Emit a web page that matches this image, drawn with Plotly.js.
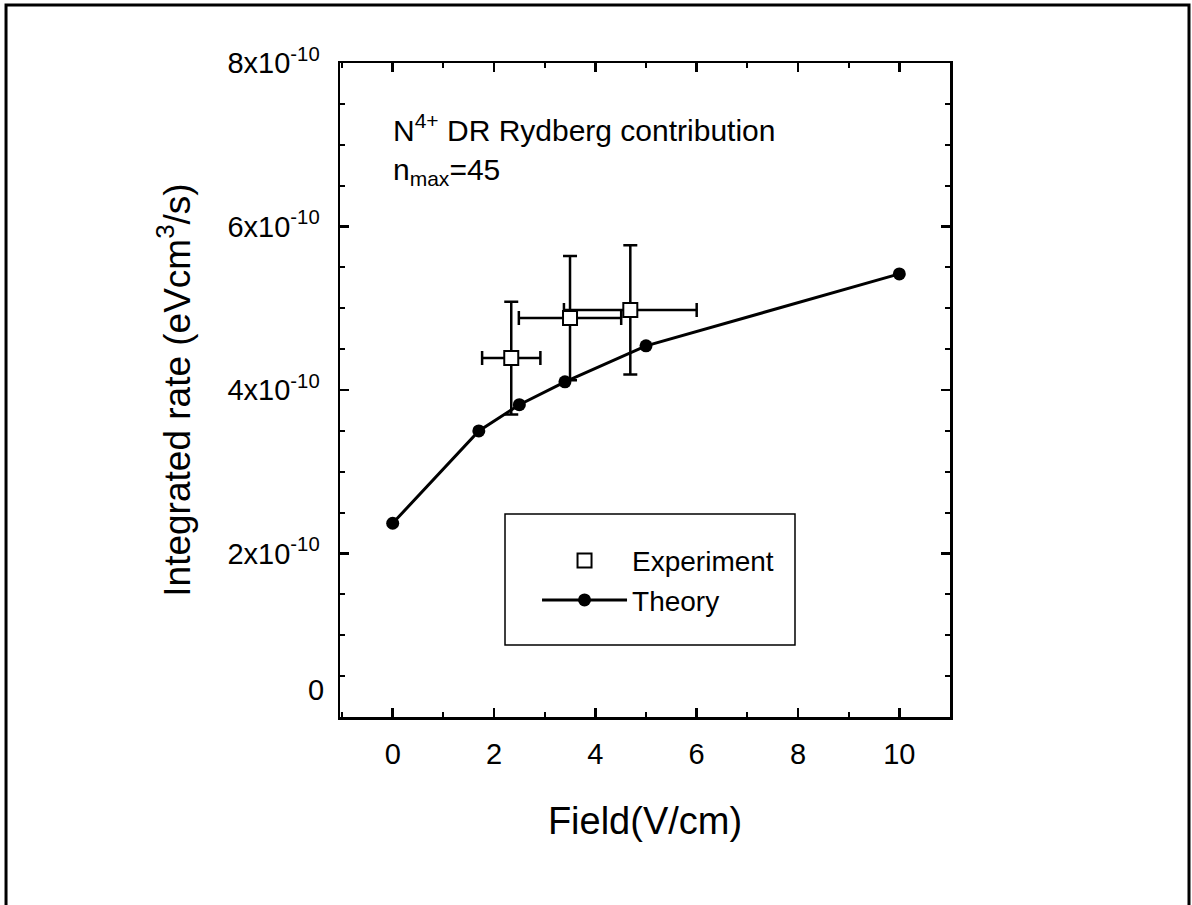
<!DOCTYPE html>
<html>
<head>
<meta charset="utf-8">
<script src="https://cdn.plot.ly/plotly-3.0.1.min.js"></script>
<style>html,body{margin:0;padding:0;background:#fff;}#chart{width:1192px;height:905px;}</style>
</head>
<body>
<div id="chart"></div>
<script>
// Theory (field V/cm, integrated rate eV cm^3/s)
const theoryField = [0, 1.7, 2.5, 3.4, 5.0, 10.0];
const theoryRate = [2.37e-10, 3.50e-10, 3.82e-10, 4.10e-10, 4.54e-10, 5.42e-10];

// Experiment
const expField = [2.34, 3.50, 4.69];
const expRate = [4.39e-10, 4.88e-10, 4.98e-10];
const expFieldErr = [0.575, 1.01, 1.31];
const expRateErr = [0.69e-10, 0.76e-10, 0.79e-10];

// Ticks
const xTickVals = [0, 2, 4, 6, 8, 10];
const xTickText = ["0", "2", "4", "6", "8", "10"];
const yTickVals = [0, 2e-10, 4e-10, 6e-10, 8e-10];
const yTickText = ["", "2x10<sup>-10</sup>", "4x10<sup>-10</sup>", "6x10<sup>-10</sup>", "8x10<sup>-10</sup>"];

const FONT = "Liberation Sans, Arial, Helvetica, sans-serif";

const traces = [
  {
    x: theoryField, y: theoryRate, name: "Theory", type: "scatter", mode: "lines+markers",
    line: {color: "#000", width: 3},
    marker: {symbol: "circle", size: 13, color: "#000"}
  },
  {
    x: expField, y: expRate, name: "Experiment", type: "scatter", mode: "markers",
    marker: {symbol: "square", size: 14, color: "#fff", line: {color: "#000", width: 2}},
    error_x: {type: "data", array: expFieldErr, visible: true, color: "#000", thickness: 2.5, width: 7},
    error_y: {type: "data", array: expRateErr, visible: true, color: "#000", thickness: 2.5, width: 7}
  }
];

const layout = {
  width: 1192, height: 905,
  paper_bgcolor: "#fff", plot_bgcolor: "#fff",
  margin: {l: 340, r: 242, t: 63, b: 188},
  font: {family: FONT, color: "#000", size: 28},
  showlegend: true,
  legend: {
    x: 0.323, y: 0.277, xanchor: "left", yanchor: "top",
    bgcolor: "rgba(0,0,0,0)", borderwidth: 0,
    itemwidth: 85, traceorder: "reversed",
    font: {family: FONT, size: 28, color: "#000"}
  },
  xaxis: {
    range: [-1.04, 11.0], showgrid: false, zeroline: false,
    showline: true, linecolor: "#000", linewidth: 2.5, mirror: "allticks",
    ticks: "inside", ticklen: 9, tickwidth: 2.5, tickcolor: "#000",
    tickvals: xTickVals, ticktext: xTickText, ticklabelstandoff: 10,
    tickfont: {family: FONT, size: 29, color: "#000"},
    minor: {dtick: 1, ticks: "inside", ticklen: 5, tickwidth: 2, tickcolor: "#000", showgrid: false},
    title: {text: "\u00a0\u00a0\u00a0\u00a0\u00a0Field(V/cm)", font: {family: FONT, size: 38, color: "#000"}, standoff: 38}
  },
  yaxis: {
    range: [0, 8e-10], showgrid: false, zeroline: false,
    showline: true, linecolor: "#000", linewidth: 2.5, mirror: "allticks",
    ticks: "inside", ticklen: 9, tickwidth: 2.5, tickcolor: "#000",
    tickvals: yTickVals, ticktext: yTickText, ticklabelstandoff: 12,
    tickfont: {family: FONT, size: 29, color: "#000"},
    minor: {dtick: 0.5e-10, ticks: "inside", ticklen: 5, tickwidth: 2, tickcolor: "#000", showgrid: false},
    title: {text: "Integrated rate (eVcm<sup>3</sup>/s)", font: {family: FONT, size: 37, color: "#000"}, standoff: 26}
  },
  annotations: [
    {
      xref: "x", yref: "y", x: -0.03, y: 7.46e-10, xanchor: "left", yanchor: "top",
      align: "left", showarrow: false,
      text: "N<sup>4+</sup> DR Rydberg contribution<br>n<sub>max</sub>=45",
      font: {family: FONT, size: 30, color: "#000"}
    },
    {
      xref: "paper", yref: "y", x: 0, y: 0, xanchor: "right", yanchor: "middle",
      xshift: -14, yshift: 27, showarrow: false, text: "0",
      font: {family: FONT, size: 29, color: "#000"}
    }
  ],
  shapes: [
    {
      type: "rect", xref: "paper", yref: "paper",
      x0: 0.2705, x1: 0.7459, y0: 0.1101, y1: 0.3104,
      line: {color: "#000", width: 1.5}, fillcolor: "rgba(0,0,0,0)"
    },
    {
      type: "rect", xref: "paper", yref: "paper",
      x0: -0.5475, x1: 1.3918, y0: -0.35, y1: 1.0887,
      line: {color: "#000", width: 3}, fillcolor: "rgba(0,0,0,0)"
    }
  ]
};

Plotly.newPlot("chart", traces, layout, {displayModeBar: false, staticPlot: true});
</script>
</body>
</html>
